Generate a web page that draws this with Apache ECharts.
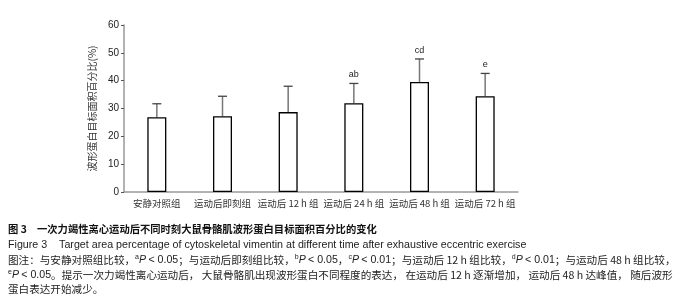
<!DOCTYPE html>
<html><head><meta charset="utf-8">
<script src="https://cdn.jsdelivr.net/npm/echarts@6/dist/echarts.min.js"></script>
<style>html,body{margin:0;padding:0;background:#fff}#c{width:679px;height:306px}</style>
</head><body><div id="c"></div>
<script>
const categories = ['安静对照组', '运动后即刻组', '运动后 12 h 组', '运动后 24 h 组', '运动后 48 h 组', '运动后 72 h 组'];
const means = [26.9, 27.2, 28.7, 31.9, 39.5, 34.4];
const upper = [31.7, 34.4, 38.0, 39.0, 47.8, 42.6];
const marks = ['', '', '', 'ab', 'cd', 'e'];
const yTicks = [0, 10, 20, 30, 40, 50, 60];

const chart = echarts.init(document.getElementById('c'));
const fontCJK = '"Noto Sans CJK SC", "Liberation Sans", sans-serif';
const fontLat = '"Liberation Sans", Arial, sans-serif';

const errData = categories.map((c, i) => [i, means[i], upper[i], marks[i]]);

function capRich(fs) {
  return {
    a: {fontSize: 7, fontFamily: fontLat, padding: [0,0,5,0]},
    p: {fontStyle: 'italic', fontFamily: fontLat, fontSize: fs},
    n: {fontFamily: fontLat, fontSize: fs}
  };
}

chart.setOption({
  animation: false,
  backgroundColor: '#fff',
  grid: {left: 124, right: 161, top: 25, bottom: 114},
  xAxis: {
    type: 'category', data: categories,
    axisLine: {lineStyle: {color: '#999', width: 1.5}},
    axisTick: {inside: true, length: 4, lineStyle: {color: '#555'}},
    axisLabel: {interval: 0, hideOverlap: false, color: '#333', fontSize: 9.5, fontFamily: fontCJK, margin: 7}
  },
  yAxis: {
    type: 'value', min: yTicks[0], max: yTicks[yTicks.length - 1], interval: 10,
    name: '波形蛋白目标面积百分比(%)', nameLocation: 'middle', nameGap: 26,
    nameTextStyle: {color: '#333', fontSize: 10, fontFamily: fontCJK},
    axisLine: {show: true, lineStyle: {color: '#999', width: 1.5}},
    axisTick: {show: true, length: 3, lineStyle: {color: '#555'}},
    axisLabel: {color: '#222', fontSize: 10, fontFamily: fontLat, margin: 5},
    splitLine: {show: false}
  },
  series: [{
    type: 'bar', data: means, barWidth: 19,
    itemStyle: {color: '#fff', borderColor: '#000', borderWidth: 1.3}
  }, {
    type: 'custom', data: errData,
    renderItem: function (params, api) {
      const x = api.value(0);
      const top = api.coord([x, api.value(2)]);
      const base = api.coord([x, api.value(1)]);
      const hw = 4.5;
      const children = [
        {type: 'line', shape: {x1: top[0], y1: base[1], x2: top[0], y2: top[1]}, style: {stroke: '#777', lineWidth: 1.5}},
        {type: 'line', shape: {x1: top[0] - hw, y1: top[1], x2: top[0] + hw, y2: top[1]}, style: {stroke: '#444', lineWidth: 1.3}}
      ];
      const m = errData[params.dataIndex][3];
      if (m) children.push({type: 'text', style: {text: m, x: top[0], y: top[1] - 4, align: 'center', verticalAlign: 'bottom', fontSize: 9, fontFamily: fontLat, fill: '#222'}});
      return {type: 'group', children: children};
    }
  }],
  graphic: [
    {type: 'text', left: 8, top: 224, style: {text: '图 3　一次力竭性离心运动后不同时刻大鼠骨骼肌波形蛋白目标面积百分比的变化', fontSize: 10.3, fontWeight: 'bold', fontFamily: fontCJK, fill: '#111'}},
    {type: 'text', left: 8, top: 240, style: {text: 'Figure 3    Target area percentage of cytoskeletal vimentin at different time after exhaustive eccentric exercise', fontSize: 10.7, fontFamily: fontLat, fill: '#222'}},
    {type: 'text', left: 8, top: 254, style: {
      text: '图注：与安静对照组比较，{a|a}{p|P} {n|< 0.05}；与运动后即刻组比较，{a|b}{p|P} {n|< 0.05}，{a|c}{p|P} {n|< 0.01}；与运动后 12 h 组比较，{a|d}{p|P} {n|< 0.01}；与运动后 48 h 组比较，',
      fontSize: 10.6, fontFamily: fontCJK, fill: '#222', rich: capRich(10.6)}},
    {type: 'text', left: 8, top: 269, style: {
      text: '{a|e}{p|P} {n|< 0.05}。提示一次力竭性离心运动后， 大鼠骨骼肌出现波形蛋白不同程度的表达， 在运动后 12 h 逐渐增加， 运动后 48 h 达峰值， 随后波形',
      fontSize: 10.6, fontFamily: fontCJK, fill: '#222', rich: capRich(10.6)}},
    {type: 'text', left: 8, top: 284, style: {text: '蛋白表达开始减少。', fontSize: 10.6, fontFamily: fontCJK, fill: '#222'}}
  ]
});
</script></body></html>
